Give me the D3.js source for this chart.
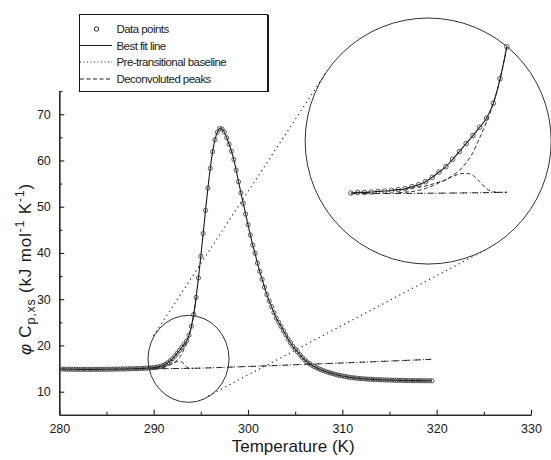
<!DOCTYPE html>
<html>
<head>
<meta charset="utf-8">
<script src="https://cdn.jsdelivr.net/npm/d3@7"></script>
<style>
  body { margin: 0; background: #fff; }
  svg { display: block; font-family: "Liberation Sans", Arial, sans-serif; }
</style>
</head>
<body>
<div id="chart"></div>
<script>
// measured points, K
const temperature = [
  280.25, 280.5, 280.75, 281, 281.25, 281.5, 281.75, 282,
  282.25, 282.5, 282.75, 283, 283.25, 283.5, 283.75, 284,
  284.25, 284.5, 284.75, 285, 285.25, 285.5, 285.75, 286,
  286.25, 286.5, 286.75, 287, 287.25, 287.5, 287.75, 288,
  288.25, 288.5, 288.75, 289, 289.25, 289.5, 289.75, 290,
  290.25, 290.5, 290.75, 291, 291.25, 291.5, 291.75, 292,
  292.25, 292.5, 292.75, 293, 293.25, 293.5, 293.75, 294,
  294.25, 294.5, 294.75, 295, 295.25, 295.5, 295.75, 296,
  296.25, 296.5, 296.75, 297, 297.25, 297.5, 297.75, 298,
  298.25, 298.5, 298.75, 299, 299.25, 299.5, 299.75, 300,
  300.25, 300.5, 300.75, 301, 301.25, 301.5, 301.75, 302,
  302.25, 302.5, 302.75, 303, 303.25, 303.5, 303.75, 304,
  304.25, 304.5, 304.75, 305, 305.25, 305.5, 305.75, 306,
  306.25, 306.5, 306.75, 307, 307.25, 307.5, 307.75, 308,
  308.25, 308.5, 308.75, 309, 309.25, 309.5, 309.75, 310,
  310.25, 310.5, 310.75, 311, 311.25, 311.5, 311.75, 312,
  312.25, 312.5, 312.75, 313, 313.25, 313.5, 313.75, 314,
  314.25, 314.5, 314.75, 315, 315.25, 315.5, 315.75, 316,
  316.25, 316.5, 316.75, 317, 317.25, 317.5, 317.75, 318,
  318.25, 318.5, 318.75, 319, 319.25, 319.5
];
// phi Cp,xs in kJ mol-1 K-1
const cpxs = [
  14.9, 14.88, 14.86, 14.85, 14.85, 14.84, 14.84, 14.83,
  14.83, 14.83, 14.82, 14.82, 14.82, 14.82, 14.82, 14.83,
  14.83, 14.83, 14.84, 14.84, 14.85, 14.86, 14.87, 14.88,
  14.89, 14.9, 14.91, 14.92, 14.94, 14.95, 14.97, 14.98,
  14.99, 15.0, 15.05, 15.05, 15.08, 15.13, 15.16, 15.21,
  15.27, 15.35, 15.51, 15.67, 15.91, 16.26, 16.68, 17.11,
  17.7, 18.32, 18.96, 19.6, 20.27, 20.99, 22.19, 24.14,
  26.7, 30.4, 34.6, 39.3, 44.2, 49.2, 54.0, 58.3,
  61.9, 64.5, 66.1, 66.9, 66.8, 66.1, 64.9, 63.5,
  62.0, 60.2, 57.9, 55.4, 53.0, 50.7, 48.4, 46.1,
  43.9, 41.7, 39.9, 37.8, 36.0, 34.3, 32.6, 31.0,
  29.6, 28.4, 27.1, 25.9, 25.0, 24.1, 23.2, 22.3,
  21.4, 20.6, 19.8, 19.2, 18.6, 18.0, 17.4, 16.9,
  16.45, 16.1, 15.75, 15.45, 15.2, 14.95, 14.75, 14.55,
  14.35, 14.2, 14.05, 13.9, 13.75, 13.6, 13.5, 13.4,
  13.3, 13.2, 13.12, 13.05, 12.98, 12.92, 12.87, 12.82,
  12.78, 12.74, 12.71, 12.68, 12.65, 12.62, 12.6, 12.58,
  12.56, 12.54, 12.52, 12.5, 12.49, 12.47, 12.46, 12.45,
  12.44, 12.43, 12.42, 12.41, 12.4, 12.4, 12.39, 12.39,
  12.38, 12.38, 12.37, 12.37, 12.36, 12.36
];

// pre-transitional baseline
const baselineT = [288.5, 294, 300, 319.5];
const baselineV = [14.95, 15.05, 15.45, 17.0];

// deconvoluted peaks (small shoulder + main peak onset)
const smallPeakT = [290.25, 290.5, 290.75, 291, 291.25, 291.5, 291.75, 292, 292.25,
  292.5, 292.75, 293, 293.25, 293.5, 293.75, 294, 294.25];
const smallPeakV = [15.02, 15.07, 15.12, 15.22, 15.37, 15.57, 15.82, 16.07, 16.32,
  16.52, 16.58, 16.4, 15.9, 15.35, 15.1, 15.06, 15.06];
const mainPeakT = [290.25, 290.5, 290.75, 291, 291.25, 291.5, 291.75, 292, 292.25,
  292.5, 292.75, 293, 293.25, 293.5, 293.75, 294, 294.25, 294.5];
const mainPeakV = [15.25, 15.3, 15.41, 15.47, 15.56, 15.71, 15.88, 16.06, 16.4,
  16.82, 17.41, 18.25, 19.42, 20.69, 22.14, 24.12, 26.7, 30.4];

const xTicks = [280, 290, 300, 310, 320, 330];
const xMinor = [285, 295, 305, 315, 325];
const yTicks = [10, 20, 30, 40, 50, 60, 70];
const yMinor = [15, 25, 35, 45, 55, 65, 75];
const legendLabels = ["Data points", "Best fit line", "Pre-transitional baseline", "Deconvoluted peaks"];

class CpChart {
  constructor(_config) {
    this.config = {
      parentElement: _config.parentElement,
      containerWidth: _config.containerWidth || 551,
      containerHeight: _config.containerHeight || 460,
      margin: _config.margin || { top: 91.1, right: 20, bottom: 45.2, left: 59.3 },
    };
    this.initVis();
  }

  initVis() {
    let vis = this;
    const m = vis.config.margin;
    const W = vis.config.containerWidth, H = vis.config.containerHeight;
    const ink = "#1a1a1a";

    vis.svg = d3.select(vis.config.parentElement).append("svg")
      .attr("width", W).attr("height", H);

    vis.x = d3.scaleLinear().domain([280, 330]).range([m.left, W - m.right]);
    vis.y = d3.scaleLinear().domain([5, 75]).range([H - m.bottom, m.top]);

    const points = temperature.map((t, i) => ({ t: t, v: cpxs[i] }));
    const zip = (a, b) => a.map((t, i) => ({ t: t, v: b[i] }));
    const baseline = zip(baselineT, baselineV);
    const smallPeak = zip(smallPeakT, smallPeakV);
    const mainPeak = zip(mainPeakT, mainPeakV);

    // axes, ticks pointing inwards
    vis.svg.append("g")
      .attr("transform", `translate(0,${H - m.bottom})`)
      .call(d3.axisBottom(vis.x).tickValues(xTicks).tickSize(-5).tickSizeOuter(0).tickPadding(9.5));
    vis.svg.append("g")
      .attr("transform", `translate(0,${H - m.bottom})`)
      .call(d3.axisBottom(vis.x).tickValues(xMinor).tickSize(-3).tickSizeOuter(0).tickFormat(""));
    vis.svg.append("g")
      .attr("transform", `translate(${m.left},0)`)
      .call(d3.axisLeft(vis.y).tickValues(yTicks).tickSize(-5).tickSizeOuter(0).tickPadding(8.5));
    vis.svg.append("g")
      .attr("transform", `translate(${m.left},0)`)
      .call(d3.axisLeft(vis.y).tickValues(yMinor).tickSize(-3).tickSizeOuter(0).tickFormat(""));
    vis.svg.selectAll(".domain, .tick line").attr("stroke", ink).attr("stroke-width", 1.1);
    vis.svg.selectAll(".tick text").attr("fill", ink).style("font-size", "12.5px")
      .style("font-family", "'Liberation Sans', Arial, sans-serif");

    // axis titles
    vis.svg.append("text")
      .attr("x", (vis.x(280) + vis.x(330)) / 2 - 2).attr("y", 451.5)
      .attr("text-anchor", "middle").attr("fill", ink)
      .style("font-size", "17px").text("Temperature (K)");

    const yt = vis.svg.append("text")
      .attr("transform", "translate(30.5,269) rotate(-90)")
      .attr("text-anchor", "middle").attr("fill", ink)
      .style("font-size", "17px").style("letter-spacing", "0.8px");
    yt.append("tspan").style("font-style", "italic").text("\u03c6");
    yt.append("tspan").text(" C");
    yt.append("tspan").attr("dy", 4).style("font-size", "12.5px").text("p,xs");
    yt.append("tspan").attr("dy", -4).text(" (kJ mol");
    yt.append("tspan").attr("dy", -7).style("font-size", "12.5px").text("-1");
    yt.append("tspan").attr("dy", 7).text(" K");
    yt.append("tspan").attr("dy", -7).style("font-size", "12.5px").text("-1");
    yt.append("tspan").attr("dy", 7).text(")");

    // zoom circles and connectors
    const c1 = { x: vis.x(293.7), y: vis.y(17.1), r: 42 };
    const c2 = { x: vis.x(319.1), y: vis.y(64.2), r: 123 };
    const dx = c2.x - c1.x, dy = c2.y - c1.y;
    const d = Math.hypot(dx, dy);
    const th = Math.atan2(dy, dx), a = Math.acos((c1.r - c2.r) / d);
    [1, -1].forEach((s) => {
      const ang = th + s * a;
      vis.svg.append("line")
        .attr("x1", c1.x + c1.r * Math.cos(ang)).attr("y1", c1.y + c1.r * Math.sin(ang))
        .attr("x2", c2.x + c2.r * Math.cos(ang)).attr("y2", c2.y + c2.r * Math.sin(ang))
        .attr("stroke", ink).attr("stroke-width", 1.1).attr("stroke-dasharray", "1.2,3.6");
    });
    vis.svg.append("ellipse")
      .attr("cx", c1.x).attr("cy", c1.y).attr("rx", 40.5).attr("ry", 43.5)
      .attr("fill", "none").attr("stroke", ink).attr("stroke-width", 0.9);
    vis.svg.append("circle")
      .attr("cx", c2.x).attr("cy", c2.y).attr("r", c2.r)
      .attr("fill", "#fff").attr("stroke", ink).attr("stroke-width", 0.9);

    // main plot contents
    vis.drawSeries(vis.svg.append("g"), vis.x, vis.y, points, baseline, smallPeak, mainPeak, 2.1);

    // inset: magnified onset of the transition
    const xi = d3.scaleLinear().domain([288.5, 294.25]).range([c2.x - 77.3, c2.x + 78.7]);
    const yi = d3.scaleLinear().domain([15, 26.6]).range([c2.y + 52, c2.y - 93]);
    const inT = (p) => p.t >= 288.5 && p.t <= 294.25;
    vis.drawSeries(vis.svg.append("g"), xi, yi, points.filter(inT),
      baseline.filter((p) => p.t <= 294.25).concat([{ t: 294.25, v: 15.06 }]),
      smallPeak.filter(inT), mainPeak.filter(inT), 2.3);

    // legend
    const lg = vis.svg.append("g");
    lg.append("rect").attr("x", 79.5).attr("y", 14.5).attr("width", 188).attr("height", 77)
      .attr("fill", "#fff").attr("stroke", ink).attr("stroke-width", 1);
    lg.append("line").attr("x1", 268.5).attr("y1", 15).attr("x2", 268.5).attr("y2", 92)
      .attr("stroke", ink).attr("stroke-width", 1);
    const rowY = [29, 45.5, 62, 79];
    lg.selectAll("text.lab").data(legendLabels).enter().append("text")
      .attr("class", "lab").attr("x", 116.5).attr("y", (d, i) => rowY[i]).attr("dy", "0.36em")
      .attr("fill", ink).style("font-size", "11.5px").style("letter-spacing", "-0.55px")
      .text((d) => d);
    lg.append("circle").attr("cx", 96.5).attr("cy", rowY[0]).attr("r", 2.2)
      .attr("fill", "none").attr("stroke", ink).attr("stroke-width", 0.9);
    const dashes = [null, "1,2.5", "4,2.5"];
    dashes.forEach((da, i) => {
      lg.append("line").attr("x1", 80).attr("x2", 112).attr("y1", rowY[i + 1]).attr("y2", rowY[i + 1])
        .attr("stroke", ink).attr("stroke-width", 1).attr("stroke-dasharray", da);
    });
  }

  // draws baseline, deconvoluted peaks, fit line and data circles with the given scales
  drawSeries(g, xs, ys, points, baseline, smallPeak, mainPeak, r) {
    const ink = "#1a1a1a";
    const line = d3.line().x((d) => xs(d.t)).y((d) => ys(d.v)).curve(d3.curveMonotoneX);

    g.append("path").datum(baseline).attr("d", line)
      .attr("fill", "none").attr("stroke", ink).attr("stroke-width", 1).attr("stroke-dasharray", "1,2.5");
    g.append("path").datum(baseline).attr("d", line)
      .attr("fill", "none").attr("stroke", ink).attr("stroke-width", 0.9).attr("stroke-dasharray", "6,5");
    [smallPeak, mainPeak].forEach((pk) => {
      g.append("path").datum(pk).attr("d", line)
        .attr("fill", "none").attr("stroke", ink).attr("stroke-width", 0.9).attr("stroke-dasharray", "4,2.5");
    });
    g.append("path").datum(points).attr("d", line)
      .attr("fill", "none").attr("stroke", ink).attr("stroke-width", 1.1);
    g.selectAll("circle.pt").data(points).enter().append("circle")
      .attr("class", "pt").attr("cx", (d) => xs(d.t)).attr("cy", (d) => ys(d.v)).attr("r", r)
      .attr("fill", "none").attr("stroke", "#333").attr("stroke-width", 0.8);
  }
}

new CpChart({ parentElement: "#chart" });
</script>
</body>
</html>
